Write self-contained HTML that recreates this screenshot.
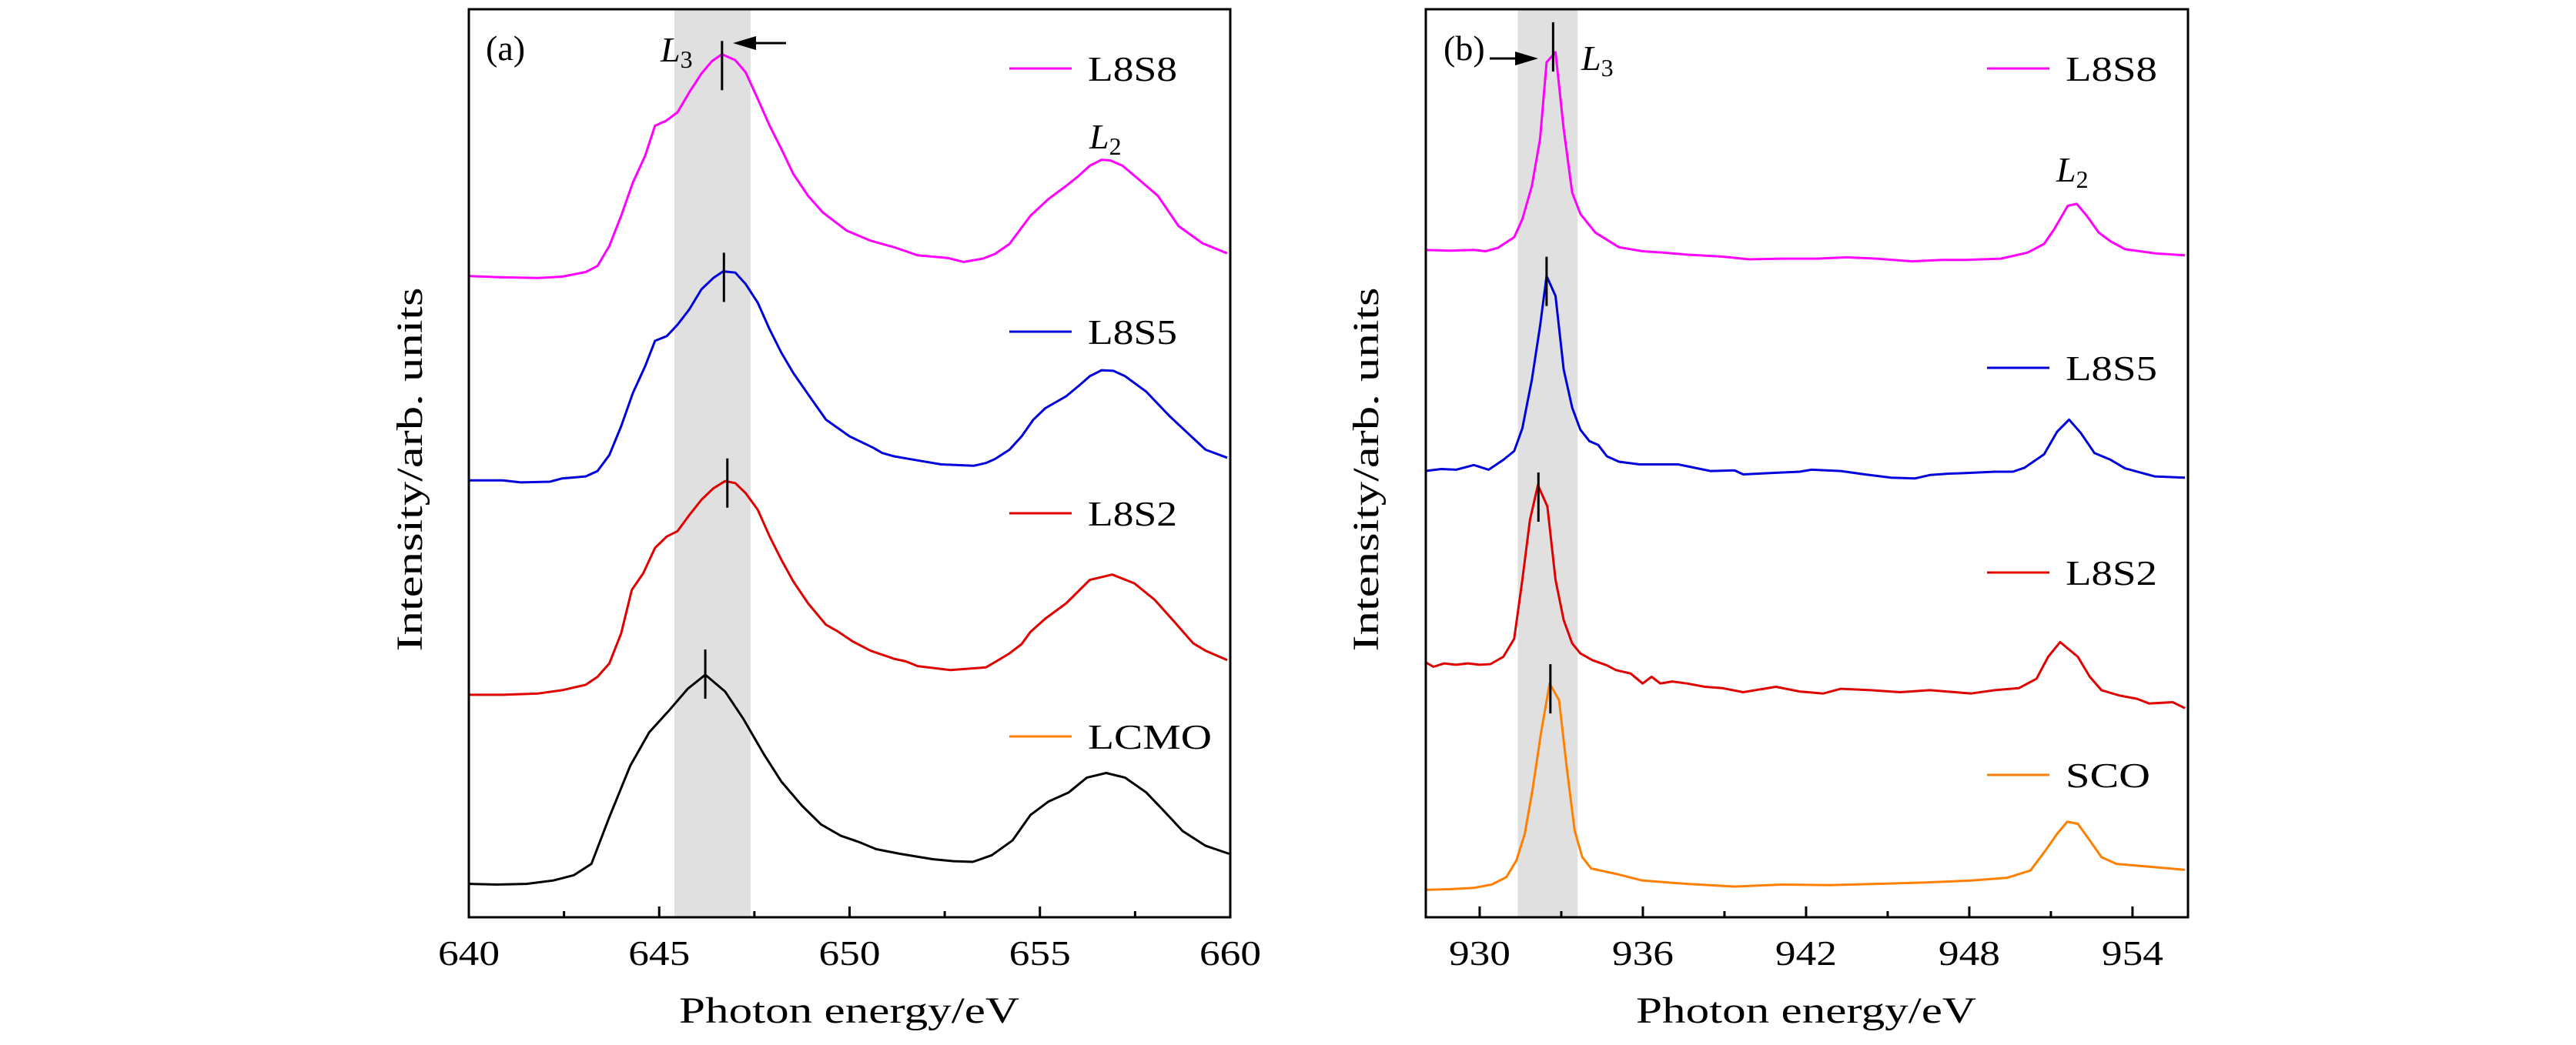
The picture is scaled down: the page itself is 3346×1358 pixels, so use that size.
<!DOCTYPE html>
<html><head><meta charset="utf-8"><style>
html,body{margin:0;padding:0;background:#fff}
svg{display:block}
text{font-family:"Liberation Serif",serif;fill:#000}
</style></head><body>
<svg id="chart" width="3346" height="1358" viewBox="0 0 3346 1358" xmlns="http://www.w3.org/2000/svg">
<g id="pa"></g>
<g id="pb"></g>
</svg>
<script>
// ---- Panel (a) Mn L-edge data ----
const aTicks=[640,645,650,655,660];
const aMinor=[642.5,647.5,652.5,657.5];
const aBand=[645.4,647.4];
const aL8S8x=[640,640.89,641.82,642.45,643.07,643.38,643.69,644.0,644.31,644.63,644.89,645.17,645.48,645.79,646.11,646.39,646.65,647.0,647.27,647.59,647.9,648.21,648.52,648.91,649.3,649.92,650.55,651.17,651.48,651.79,652.57,653.0,653.5,653.82,654.2,654.75,655.22,655.69,656.0,656.31,656.62,656.85,657.17,657.55,658.1,658.64,659.27,659.92];
const aL8S8y=[960,958,957,959,966,975,1005,1050,1100,1140,1185,1192,1205,1235,1263,1282,1292,1283,1265,1225,1185,1150,1113,1080,1055,1028,1013,1003,997,991,987,981,986,993,1008,1050,1075,1095,1109,1125,1134,1133,1125,1107,1080,1035,1009,994];
const aL8S5x=[640,640.89,641.36,642.13,642.45,643.07,643.38,643.69,644.0,644.31,644.63,644.89,645.2,645.48,645.79,646.11,646.42,646.68,647.0,647.27,647.59,647.9,648.21,648.52,648.91,649.38,650.0,650.62,650.86,651.17,651.79,652.41,653.27,653.58,653.82,654.2,654.52,654.83,655.14,655.69,656.07,656.31,656.62,656.93,657.24,657.79,658.41,658.88,659.35,659.92];
const aL8S5y=[654,654,651,652,657,660,668,692,735,785,825,863,870,887,910,940,957,967,965,948,920,880,845,815,783,745,720,703,695,690,684,678,676,680,686,700,720,745,762,780,798,810,819,818,810,787,750,725,700,688];
const aL8S2x=[640,640.89,641.82,642.45,643.07,643.38,643.69,644.0,644.28,644.58,644.89,645.2,645.48,645.79,646.11,646.42,646.73,647.0,647.27,647.59,647.9,648.21,648.52,648.91,649.38,649.69,650.08,650.55,651.17,651.48,651.79,652.65,653.58,653.82,654.2,654.52,654.75,655.14,655.69,656.31,656.9,657.48,658.02,658.49,659.03,659.35,659.92];
const aL8S2y=[333,333,335,340,348,360,380,425,490,515,553,570,578,602,625,642,653,650,635,610,570,535,503,470,438,428,413,399,387,383,376,370,374,382,395,409,427,447,470,505,513,500,475,445,410,399,385];
const aLCMOx=[640,640.73,641.51,642.21,642.76,643.22,643.69,644.24,644.74,645.25,645.75,646.21,646.73,647.2,647.74,648.21,648.75,649.25,649.77,650.23,650.7,651.32,652.18,652.73,653.24,653.74,654.28,654.75,655.22,655.76,656.23,656.74,657.24,657.79,658.26,658.75,659.35,659.97];
const aLCMOy=[50,49,50,55,63,80,150,227,277,309,342,363,338,298,245,203,167,139,122,113,102,95,87,84,83,93,115,153,173,187,209,216,209,187,159,129,107,95];
const aPeakX=[646.65,646.7,646.79,646.21];
const aPeakY=[1275,958,650,364];
const aNames=["L8S8","L8S5","L8S2","LCMO"];

// ---- Panel (b) Co L-edge data ----
const bTicks=[930,936,942,948,954];
const bMinor=[933,939,945,951];
const bBand=[931.4,933.6];
const bL8S8x=[928,928.91,929.79,930.22,930.66,931.27,931.57,931.92,932.22,932.46,932.79,933.09,933.4,933.7,934.25,935.12,935.99,936.75,937.62,938.93,939.91,941.11,942.41,943.5,944.59,945.9,946.99,947.86,949.16,950.14,950.75,951.12,951.62,951.95,952.32,952.76,953.19,953.73,954.82,955.93];
const bL8S8y=[999,998,999,997,1002,1018,1045,1095,1165,1280,1295,1180,1085,1053,1025,1003,997,995,992,989,985,986,986,988,986,982,984,984,986,995,1008,1030,1065,1068,1050,1025,1012,1000,994,991];
const bL8S5x=[928,928.59,929.13,929.79,930.33,930.88,931.27,931.57,931.92,932.22,932.46,932.79,933.09,933.4,933.7,934.03,934.36,934.68,935.12,935.88,936.75,937.3,938.49,939.37,939.69,940.67,941.76,942.2,943.28,944.16,945.13,946.01,946.55,947.2,947.86,948.94,949.6,950.03,950.75,951.23,951.67,952.1,952.6,953.19,953.73,954.82,955.93];
const bL8S5y=[668,671,670,677,670,685,698,732,805,885,960,930,820,763,730,713,707,690,682,678,678,678,668,669,663,665,667,670,668,663,658,657,662,664,665,667,667,673,693,727,745,725,695,685,672,660,658];
const bL8S2x=[928,928.3,928.7,929.13,929.57,930.0,930.4,930.87,931.27,931.57,931.85,932.14,932.49,932.79,933.09,933.4,933.7,934.14,934.68,935.01,935.55,935.99,936.32,936.64,937.08,937.62,938.28,938.93,939.69,940.89,941.76,942.63,943.28,944.37,945.46,946.55,948.07,948.94,949.82,950.47,950.9,951.34,951.99,952.43,952.86,953.52,954.17,954.61,955.48,955.93];
const bL8S2y=[382,375,380,378,380,378,379,390,417,505,595,647,615,505,445,410,395,385,377,370,365,350,360,350,353,350,345,343,337,345,338,335,342,340,337,340,335,340,343,357,390,412,390,360,340,332,327,320,322,313];
const bSCOx=[928,928.91,929.79,930.44,930.98,931.35,931.66,931.96,932.25,932.57,932.92,933.2,933.49,933.77,934.1,935.01,935.99,937.62,939.37,941.11,942.85,944.59,946.33,948.07,949.38,950.25,950.8,951.23,951.6,951.99,952.43,952.86,953.41,954.82,955.93];
const bSCOy=[41,42,44,49,60,85,125,195,275,350,325,225,130,90,73,65,55,50,46,49,48,50,52,55,59,70,100,125,143,140,115,90,80,75,71];
const bPeakX=[932.7,932.46,932.16,932.6];
const bPeakY=[1303,952,629,342];
const bNames=["L8S8","L8S5","L8S2","SCO"];

const NS="http://www.w3.org/2000/svg";
function mk(parent,tag,attrs,txt){const e=document.createElementNS(NS,tag);for(const k in attrs)e.setAttribute(k,attrs[k]);if(txt!==undefined)e.textContent=txt;parent.appendChild(e);return e;}
const TOP=12,BOT=1192;
function yS(v){return BOT-v/1.152;}

function panel(g,id,L,R,x0,x1,cfg){
  const xS=v=>L+(v-x0)/(x1-x0)*(R-L);
  const cp=mk(g,'clipPath',{id:'clip'+id});
  mk(cp,'rect',{x:L,y:TOP,width:R-L,height:BOT-TOP});
  const band=mk(g,'rect',{x:xS(cfg.band[0]),y:TOP,width:xS(cfg.band[1])-xS(cfg.band[0]),height:BOT-TOP,fill:'#e0e0e0'});
  
  
  cfg.series.forEach((s,i)=>{
    const n=Math.min(s.x.length,s.y.length);let pts=[];
    for(let k=0;k<n;k++)pts.push(xS(s.x[k]).toFixed(1)+','+yS(s.y[k]).toFixed(1));
    const pl=mk(g,'polyline',{points:pts.join(' '),fill:'none',stroke:s.c,'stroke-width':3,'stroke-linejoin':'round','clip-path':'url(#clip'+id+')'});
    
    
    const px=xS(cfg.px[i]),py=yS(cfg.py[i]);
    const mkr=mk(g,'line',{x1:px,x2:px,y1:py-32,y2:py+32,stroke:'#000','stroke-width':3});
    
    
  });
  // axes frame
  const fr=mk(g,'rect',{x:L,y:TOP,width:R-L,height:BOT-TOP,fill:'none',stroke:'#000','stroke-width':3});
  
  
  cfg.ticks.forEach(t=>{
    const x=xS(t);
    const tl=mk(g,'line',{x1:x,x2:x,y1:BOT,y2:BOT-14,stroke:'#000','stroke-width':3});
    
    
    const lb=mk(g,'text',{x:x,y:1254,'font-size':46,'text-anchor':'middle',textLength:80,lengthAdjust:'spacingAndGlyphs'},String(t));
    
    
  });
  cfg.minor.forEach(t=>{
    const x=xS(t);
    const tl=mk(g,'line',{x1:x,x2:x,y1:BOT,y2:BOT-8,stroke:'#000','stroke-width':3});
    
    
  });
  const xt=mk(g,'text',{x:cfg.xtx,y:1329,'font-size':48,'text-anchor':'middle',textLength:442,lengthAdjust:'spacingAndGlyphs'},'Photon energy/eV');
  
  
  const yt=mk(g,'text',{x:0,y:0,'font-size':48,'text-anchor':'middle',textLength:473,lengthAdjust:'spacingAndGlyphs',transform:'translate('+cfg.ytx+',610) rotate(-90)'},'Intensity/arb. units');
  
  
  // legend
  cfg.series.forEach((s,i)=>{
    const ly=cfg.legY[i];
    const ln=mk(g,'line',{x1:cfg.legX,x2:cfg.legX+81,y1:ly,y2:ly,stroke:cfg.legC[i],'stroke-width':3});
    
    
    const tx=mk(g,'text',{x:cfg.legX+102,y:ly+16,'font-size':46,textLength:cfg.legW[i],lengthAdjust:'spacingAndGlyphs'},s.n);
    
    
  });
  const pl=mk(g,'text',{x:cfg.lab[0],y:78,'font-size':46},cfg.lab[2]);
  
  
  // L3 / L2 labels
  [['L3',cfg.l3],['L2',cfg.l2]].forEach(([nm,p])=>{
    const t=mk(g,'text',{x:p[0],y:p[1],'font-size':46,'font-style':'italic'});
    
    
    mk(t,'tspan',{},'L');
    mk(t,'tspan',{'font-size':32,'font-style':'normal',dy:8},nm[1]);
  });
  // arrow
  const a=cfg.arrow;
  const al=mk(g,'line',{x1:a[0],x2:a[1]+(a[1]>a[0]?-18:18),y1:a[2],y2:a[2],stroke:'#000','stroke-width':3});
  
  
  const d=a[1]>a[0]?-1:1;
  const ah=mk(g,'polygon',{points:a[1]+','+a[2]+' '+(a[1]+d*30)+','+(a[2]-9)+' '+(a[1]+d*30)+','+(a[2]+9),fill:'#000'});
  
  
}

panel(document.getElementById('pa'),'a',609,1598,640,660,{
  band:aBand,ticks:aTicks,minor:aMinor,px:aPeakX,py:aPeakY,
  series:[{n:aNames[0],x:aL8S8x,y:aL8S8y,c:'#ff00ff'},{n:aNames[1],x:aL8S5x,y:aL8S5y,c:'#0000dd'},{n:aNames[2],x:aL8S2x,y:aL8S2y,c:'#e00000'},{n:aNames[3],x:aLCMOx,y:aLCMOy,c:'#000000'}],
  legX:1311,legY:[89,431,667,957],legC:['#ff00ff','#0000dd','#e00000','#ff8000'],legW:[116,116,116,161],
  xtx:1103,ytx:548,lab:[631,78,'(a)'],l3:[858,80],l2:[1415,193],arrow:[1021,952,56]
});
panel(document.getElementById('pb'),'b',1852,2842,928.02,956.04,{
  band:bBand,ticks:bTicks,minor:bMinor,px:bPeakX,py:bPeakY,
  series:[{n:bNames[0],x:bL8S8x,y:bL8S8y,c:'#ff00ff'},{n:bNames[1],x:bL8S5x,y:bL8S5y,c:'#0000dd'},{n:bNames[2],x:bL8S2x,y:bL8S2y,c:'#e00000'},{n:bNames[3],x:bSCOx,y:bSCOy,c:'#ff8000'}],
  legX:2581,legY:[89,478,744,1007],legC:['#ff00ff','#0000dd','#e00000','#ff8000'],legW:[119,119,119,110],
  xtx:2346,ytx:1790,lab:[1875,78,'(b)'],l3:[2054,91],l2:[2671,236],arrow:[1935,1998,76]
});
</script>
</body></html>
